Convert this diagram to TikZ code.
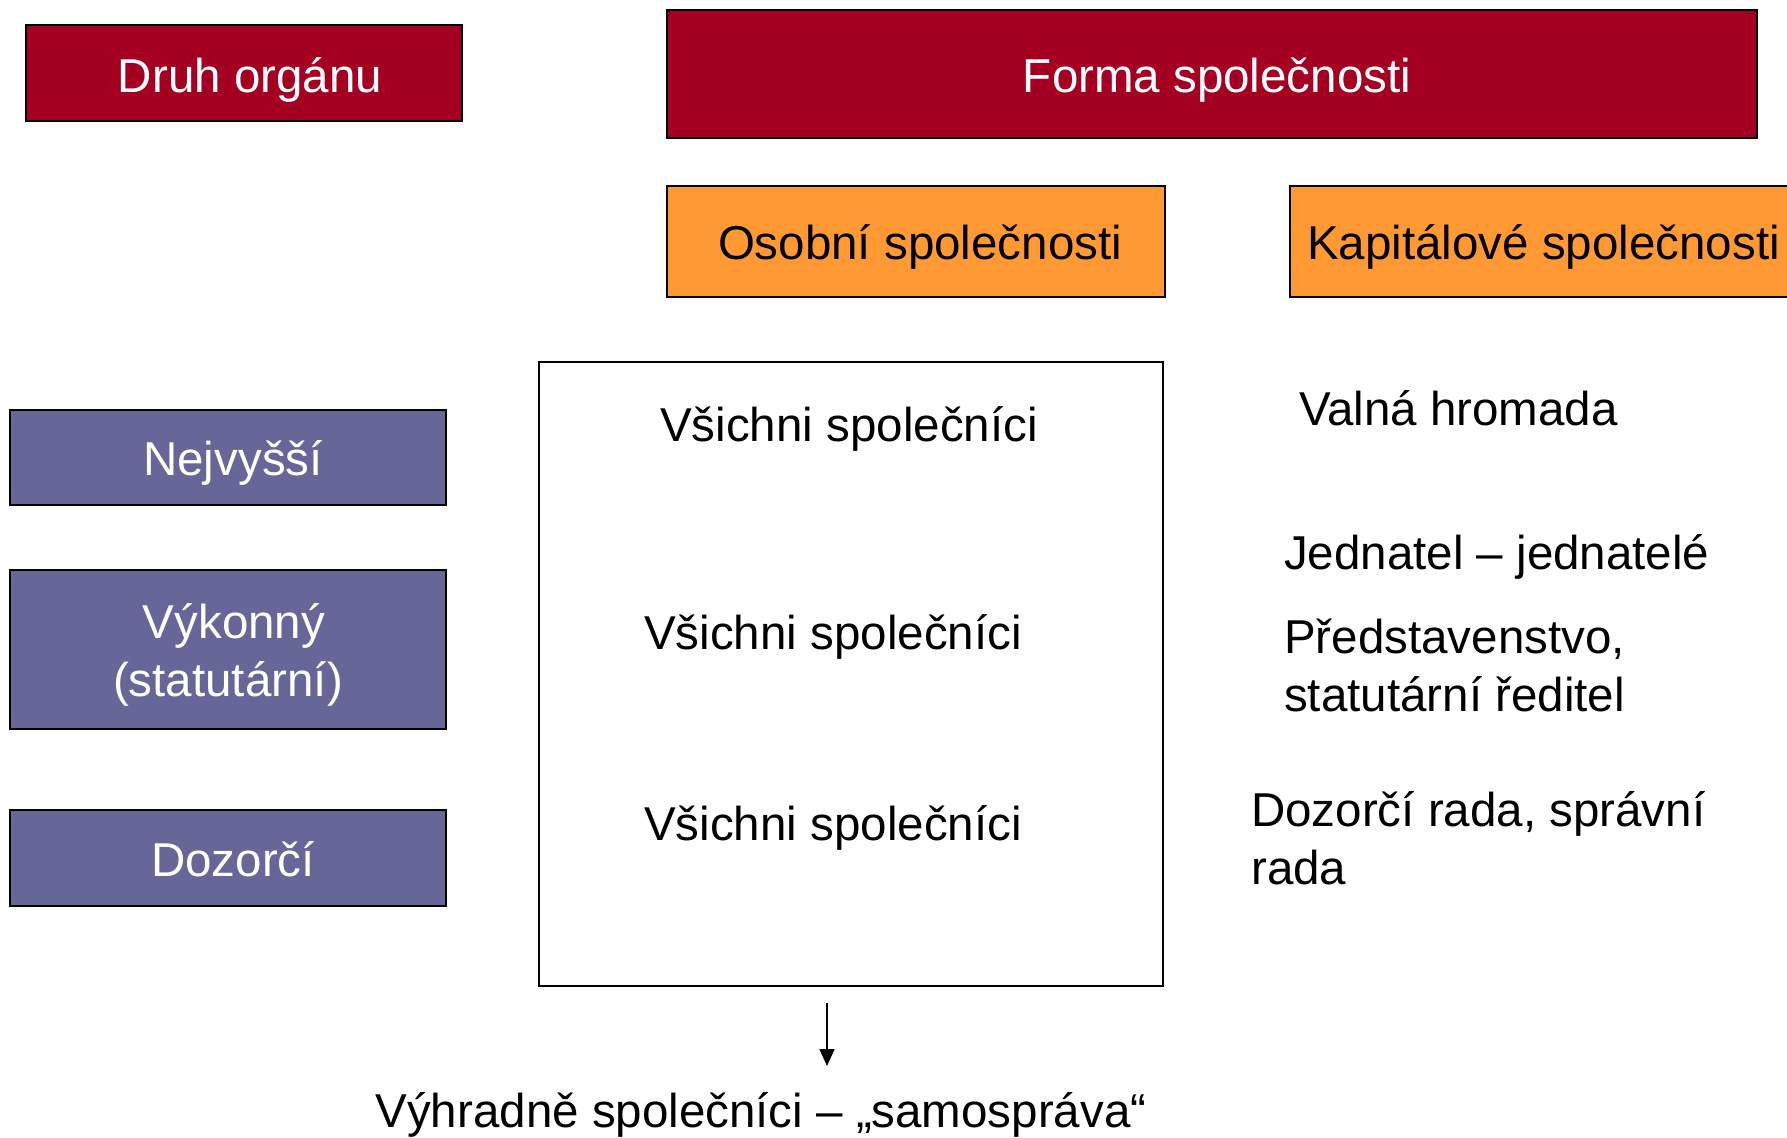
\documentclass[tikz,border=0pt]{standalone}
\usepackage{fontspec}
\setmainfont{Liberation Sans}
\usetikzlibrary{arrows.meta}
\definecolor{darkred}{HTML}{A50021}
\definecolor{orangebox}{HTML}{FF9933}
\definecolor{purplebox}{HTML}{666699}
\begin{document}
\begin{tikzpicture}[x=1pt,y=-1pt,
  every node/.style={font=\fontsize{47.5}{58}\selectfont, inner sep=0pt},
  redbox/.style={draw=black, line width=1.5pt, fill=darkred},
  orangefill/.style={draw=black, line width=1.5pt, fill=orangebox},
  purplefill/.style={draw=black, line width=1.5pt, fill=purplebox},
  whitetext/.style={text=white, align=center},
  blacktext/.style={text=black, align=left}]
\useasboundingbox (0,0) rectangle (1787,1137);
% header boxes
\draw[redbox] (26,25) rectangle (462,121);
\node[whitetext] (druh) at (250,80) {Druh orgánu};
\draw[redbox] (667,10) rectangle (1757,138);
\node[whitetext] (forma) at (1217,80) {Forma společnosti};
\draw[orangefill] (667,186) rectangle (1165,297);
\node[blacktext] (osobni) at (920,247) {Osobní společnosti};
\begin{scope}
\clip (0,0) rectangle (1787,1137);
\draw[orangefill] (1290,186) rectangle (1800,297);
\end{scope}
\node[blacktext, anchor=west] (kapital) at (1307,247) {Kapitálové společnosti};
% left boxes
\draw[purplefill] (10,410) rectangle (446,505);
\node[whitetext] (nejvyssi) at (233,463) {Nejvyšší};
\draw[purplefill] (10,570) rectangle (446,729);
\node[whitetext] (vykonny) at (228,655) {\hspace*{12pt}Výkonný\\(statutární)};
\draw[purplefill] (10,810) rectangle (446,906);
\node[whitetext] (dozorci) at (233,859) {Dozorčí};
% big box
\draw[black, line width=1.5pt] (539,362) rectangle (1163,986);
\node[blacktext] (v1) at (849,429) {Všichni společníci};
\node[blacktext] (v2) at (833,637) {Všichni společníci};
\node[blacktext] (v3) at (833,828) {Všichni společníci};
% right texts
\node[blacktext, anchor=west] (valna) at (1299,408) {Valná hromada};
\node[blacktext, anchor=west] (jednatel) at (1284,557) {Jednatel – jednatelé};
\node[blacktext, anchor=west] (predst) at (1284,665) {Představenstvo,\\statutární ředitel};
\node[blacktext, anchor=west] (dozrada) at (1251,838) {Dozorčí rada, správní\\rada};
% arrow and bottom text
\coordinate (astart) at (827,1003);
\coordinate (aend) at (827,1066);
\draw[line width=1.5pt, -{Triangle[length=17pt,width=15pt]}] (astart) -- (aend);
\node[blacktext] (vyhradne) at (761,1115) {Výhradně společníci – „samospráva“};
\end{tikzpicture}
\end{document}
